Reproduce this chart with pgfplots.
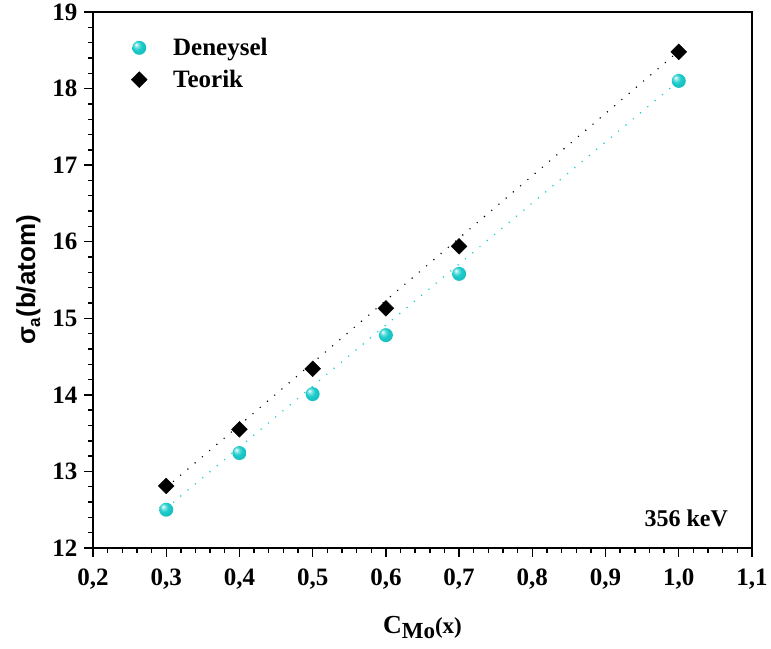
\documentclass[border=0pt]{standalone}
\usepackage{pgfplots}
\pgfplotsset{compat=1.18}
\usepackage{fontspec}
\setmainfont{Liberation Serif}
\newfontfamily\arialf{Liberation Sans}
\definecolor{ballc}{HTML}{1CCCCC}
\pgfdeclareradialshading{myball}{\pgfpoint{-12bp}{12bp}}{color(0bp)=(white); color(7bp)=(ballc!55!white); color(16bp)=(ballc); color(30bp)=(ballc!92!black); color(50bp)=(ballc!78!black)}
\pgfdeclareplotmark{myball}{\pgfpathcircle{\pgfpointorigin}{\pgfplotmarksize}\pgfshadepath{myball}{0}\pgfusepath{}}
\begin{document}
\begin{tikzpicture}
\useasboundingbox (-93pt,-100pt) rectangle (678pt,548pt);
\begin{axis}[
  scale only axis,
  width=659pt, height=536pt,
  xmin=0.2, xmax=1.1, ymin=12, ymax=19,
  xtick={0.2,0.3,...,1.1}, ytick={12,13,...,19},
  minor x tick num=4, minor y tick num=4,
  tick align=outside,
  xtick pos=bottom, ytick pos=left,
  major tick length=9pt, minor tick length=5pt,
  every tick/.style={black, line width=1.4pt},
  axis line style={line width=1.8pt},
  /pgf/number format/assume math mode=true,
  xticklabel style={/pgf/number format/.cd, use comma, fixed, fixed zerofill, precision=1},
  yticklabel style={/pgf/number format/.cd, fixed, precision=0},
  tick label style={font=\bfseries\fontsize{25}{27}\selectfont},
  xticklabel shift=8pt, yticklabel shift=3pt,
  xlabel={\bfseries\fontsize{26}{28}\selectfont C\raisebox{-5pt}{\fontsize{23}{25}\selectfont Mo}\fontsize{23}{25}\selectfont(x)},
  ylabel={\arialf\bfseries\fontsize{26}{28}\selectfont σ\raisebox{-5pt}{\fontsize{17}{18}\selectfont a}(b/atom)},
  xlabel style={yshift=-20pt},
  ylabel style={yshift=5pt},
  legend style={draw=none, fill=none, at={(axis cs:0.248,18.71)}, anchor=north west,
    font=\bfseries\fontsize{25}{27}\selectfont, row sep=9pt, column sep=24pt},
  legend cell align=left,
  clip=false,
]
\addplot[forget plot, ballc, line width=1.7pt, line cap=round, dash pattern=on 0pt off 9.5pt]
  coordinates {(0.3,12.52) (1.0,18.10)};
\addplot[forget plot, black, line width=1.6pt, line cap=round, dash pattern=on 0pt off 9.5pt]
  coordinates {(0.3,12.79) (1.0,18.49)};
\addplot[only marks, mark=myball, mark size=7pt]
  coordinates {(0.3,12.50) (0.4,13.24) (0.5,14.01) (0.6,14.78) (0.7,15.58) (1.0,18.10)};
\addlegendentry{Deneysel}
\addplot[only marks, mark=square*, mark size=5.6pt, mark options={rotate=45, fill=black}]
  coordinates {(0.3,12.81) (0.4,13.55) (0.5,14.34) (0.6,15.13) (0.7,15.94) (1.0,18.48)};
\addlegendentry{Teorik}
\node[anchor=east, font=\bfseries\fontsize{24}{26}\selectfont] at (axis cs:1.072,12.39) {356 keV};
\end{axis}
\end{tikzpicture}
\end{document}
